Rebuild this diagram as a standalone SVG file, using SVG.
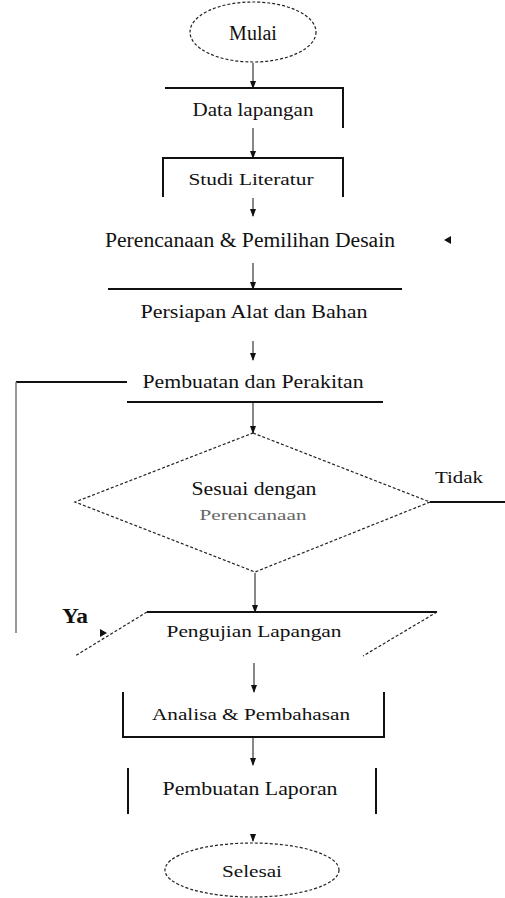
<svg xmlns="http://www.w3.org/2000/svg" width="505" height="898" viewBox="0 0 505 898">
<style>
text{font-family:"Liberation Serif","Times New Roman",serif;fill:#111;text-anchor:middle}
.box{fill:none;stroke:#111;stroke-width:2}
.dash{fill:none;stroke:#222;stroke-width:1.2;stroke-dasharray:3 2}
.arr{fill:none;stroke:#111;stroke-width:1}
.thick{fill:none;stroke:#111;stroke-width:2}
.grey{fill:none;stroke:#777;stroke-width:1.5}
.head{fill:#111}
</style>
<defs>
<marker id="ah" viewBox="0 0 8 8" refX="7" refY="4" markerWidth="8" markerHeight="8" markerUnits="userSpaceOnUse" orient="auto">
<path d="M0,1 L8,4 L0,7 Z" class="head"/>
</marker>
</defs>
<rect width="505" height="898" fill="#fff"/>
<g id="connectors">
<line class="arr" x1="253" y1="63" x2="253" y2="88" marker-end="url(#ah)"/>
<line class="arr" x1="253" y1="128" x2="253" y2="158" marker-end="url(#ah)"/>
<line class="arr" x1="253" y1="198" x2="253" y2="216" marker-end="url(#ah)"/>
<line class="arr" x1="253" y1="263" x2="253" y2="289" marker-end="url(#ah)"/>
<line class="arr" x1="253" y1="341" x2="253" y2="360" marker-end="url(#ah)"/>
<line class="arr" x1="253" y1="403" x2="253" y2="433" marker-end="url(#ah)"/>
<line class="arr" x1="255" y1="573" x2="255" y2="612" marker-end="url(#ah)"/>
<line class="arr" x1="254" y1="663" x2="254" y2="692" marker-end="url(#ah)"/>
<line class="arr" x1="253" y1="738" x2="253" y2="765" marker-end="url(#ah)"/>
<line class="arr" x1="253" y1="834" x2="253" y2="841" marker-end="url(#ah)"/>
<line class="thick" x1="430" y1="502" x2="505" y2="502"/>
<polyline class="thick" points="127,382 16,382"/>
<line class="grey" x1="16" y1="382" x2="16" y2="633"/>
<path class="head" d="M100,629 L107,633 L100,637 Z"/>
<path class="head" d="M451,236 L444,240 L451,244 Z"/>
</g>
<g id="mulai">
<ellipse class="dash" cx="253" cy="32" rx="63" ry="30"/>
<text x="253" y="40" font-size="20">Mulai</text>
</g>
<g id="data-lapangan">
<polyline class="box" points="165,88 343,88 343,128"/>
<text x="253" y="116" font-size="19" textLength="121" lengthAdjust="spacingAndGlyphs">Data lapangan</text>
</g>
<g id="studi-literatur">
<polyline class="box" points="163,197 163,158 343,158 343,197"/>
<text x="251" y="185" font-size="16" textLength="125" lengthAdjust="spacingAndGlyphs">Studi Literatur</text>
</g>
<g id="perencanaan">
<text x="250" y="247" font-size="20" textLength="290" lengthAdjust="spacingAndGlyphs">Perencanaan &amp; Pemilihan Desain</text>
</g>
<g id="persiapan">
<line class="box" x1="108" y1="289" x2="402" y2="289"/>
<text x="254" y="318" font-size="19" textLength="227" lengthAdjust="spacingAndGlyphs">Persiapan Alat dan Bahan</text>
</g>
<g id="pembuatan">
<line class="box" x1="127" y1="402" x2="383" y2="402"/>
<text x="253" y="388" font-size="19" textLength="221" lengthAdjust="spacingAndGlyphs">Pembuatan dan Perakitan</text>
</g>
<g id="keputusan">
<polygon class="dash" points="253,433 430,502 255,572 75,502"/>
<text x="254" y="495" font-size="19" textLength="125" lengthAdjust="spacingAndGlyphs">Sesuai dengan</text>
<text x="253" y="520" font-size="15" fill="#666" style="fill:#666" textLength="107" lengthAdjust="spacingAndGlyphs">Perencanaan</text>
<text x="459" y="483" font-size="16" textLength="48" lengthAdjust="spacingAndGlyphs">Tidak</text>
<text x="75" y="623" font-size="20" font-weight="bold" textLength="26" lengthAdjust="spacingAndGlyphs">Ya</text>
</g>
<g id="pengujian">
<line class="box" x1="147" y1="612" x2="437" y2="612"/>
<line class="dash" x1="147" y1="612" x2="75" y2="656"/>
<line class="dash" x1="437" y1="612" x2="363" y2="656"/>
<text x="254" y="637" font-size="17" textLength="175" lengthAdjust="spacingAndGlyphs">Pengujian Lapangan</text>
</g>
<g id="analisa">
<polyline class="box" points="123,692 123,737 384,737 384,692"/>
<text x="251" y="720" font-size="17" textLength="198" lengthAdjust="spacingAndGlyphs">Analisa &amp; Pembahasan</text>
</g>
<g id="laporan">
<line class="box" x1="128" y1="768" x2="128" y2="814"/>
<line class="box" x1="376" y1="768" x2="376" y2="814"/>
<text x="250" y="795" font-size="19" textLength="175" lengthAdjust="spacingAndGlyphs">Pembuatan Laporan</text>
</g>
<g id="selesai">
<ellipse class="dash" cx="252" cy="870" rx="87" ry="27"/>
<text x="252" y="877" font-size="17" textLength="60" lengthAdjust="spacingAndGlyphs">Selesai</text>
</g>
</svg>
